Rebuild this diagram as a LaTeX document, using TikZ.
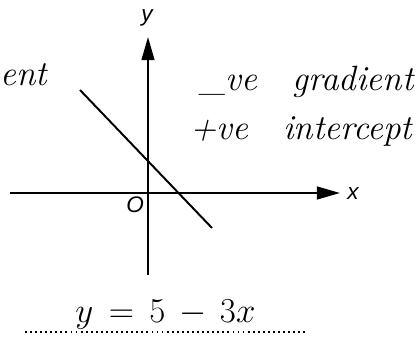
\documentclass[tikz,border=0pt]{standalone}
\usepackage{fontspec}
\newfontfamily\axisfont{Liberation Sans}
\usetikzlibrary{arrows.meta,positioning}
\tikzset{
  axis/.style={line width=1.5pt,-{Triangle[length=5.8mm,width=3.2mm]}},
  graphline/.style={line width=1.4pt},
  hand/.style={font=\fontsize{25}{30}\selectfont\itshape,inner sep=0pt},
  axlabel/.style={font=\axisfont\itshape\fontsize{16}{18}\selectfont,inner sep=0pt},
  answerline/.style={line width=1.4pt,dash pattern=on 1.3pt off 2.3pt}
}

\begin{document}
\begin{tikzpicture}[x=0.25mm,y=-0.25mm]
    \useasboundingbox (0,0) rectangle (419,352);
    % axes
    \coordinate (O) at (148,193);
    \coordinate (xl) at (10,193);
    \coordinate (xr) at (340,193);
    \coordinate (yb) at (148,275);
    \coordinate (yt) at (148,37);
    \draw[axis] (xl) -- (xr);
    \draw[axis] (yb) -- (yt);
    \node[axlabel] (xlab) at (353,194) {x};
    \node[axlabel] (ylab) at (147,18) {y};
    \node[axlabel] (olab) at (135,205) {O};
    % the line
    \coordinate (la) at (80,90);
    \coordinate (lb) at (212,228);
    \draw[graphline] (la) -- (lb);
    % notes
    \node[hand,anchor=base west] (ent) at (0,86) {ent};
    \node[hand,anchor=base west] (grad) at (200,91) {\_ve\quad gradient};
    \node[hand,anchor=base west] (icpt) at (190,140) {+ve\quad intercept};
    % answer
    \coordinate (d1) at (25,332);
    \coordinate (d2) at (307,332);
    \draw[answerline] (d1) -- (d2);
    \node[hand,anchor=base west,font=\fontsize{32}{38}\selectfont] (eqn) at (75,322) {$y\,=\,5\,-\,3x$};
\end{tikzpicture}
\end{document}
